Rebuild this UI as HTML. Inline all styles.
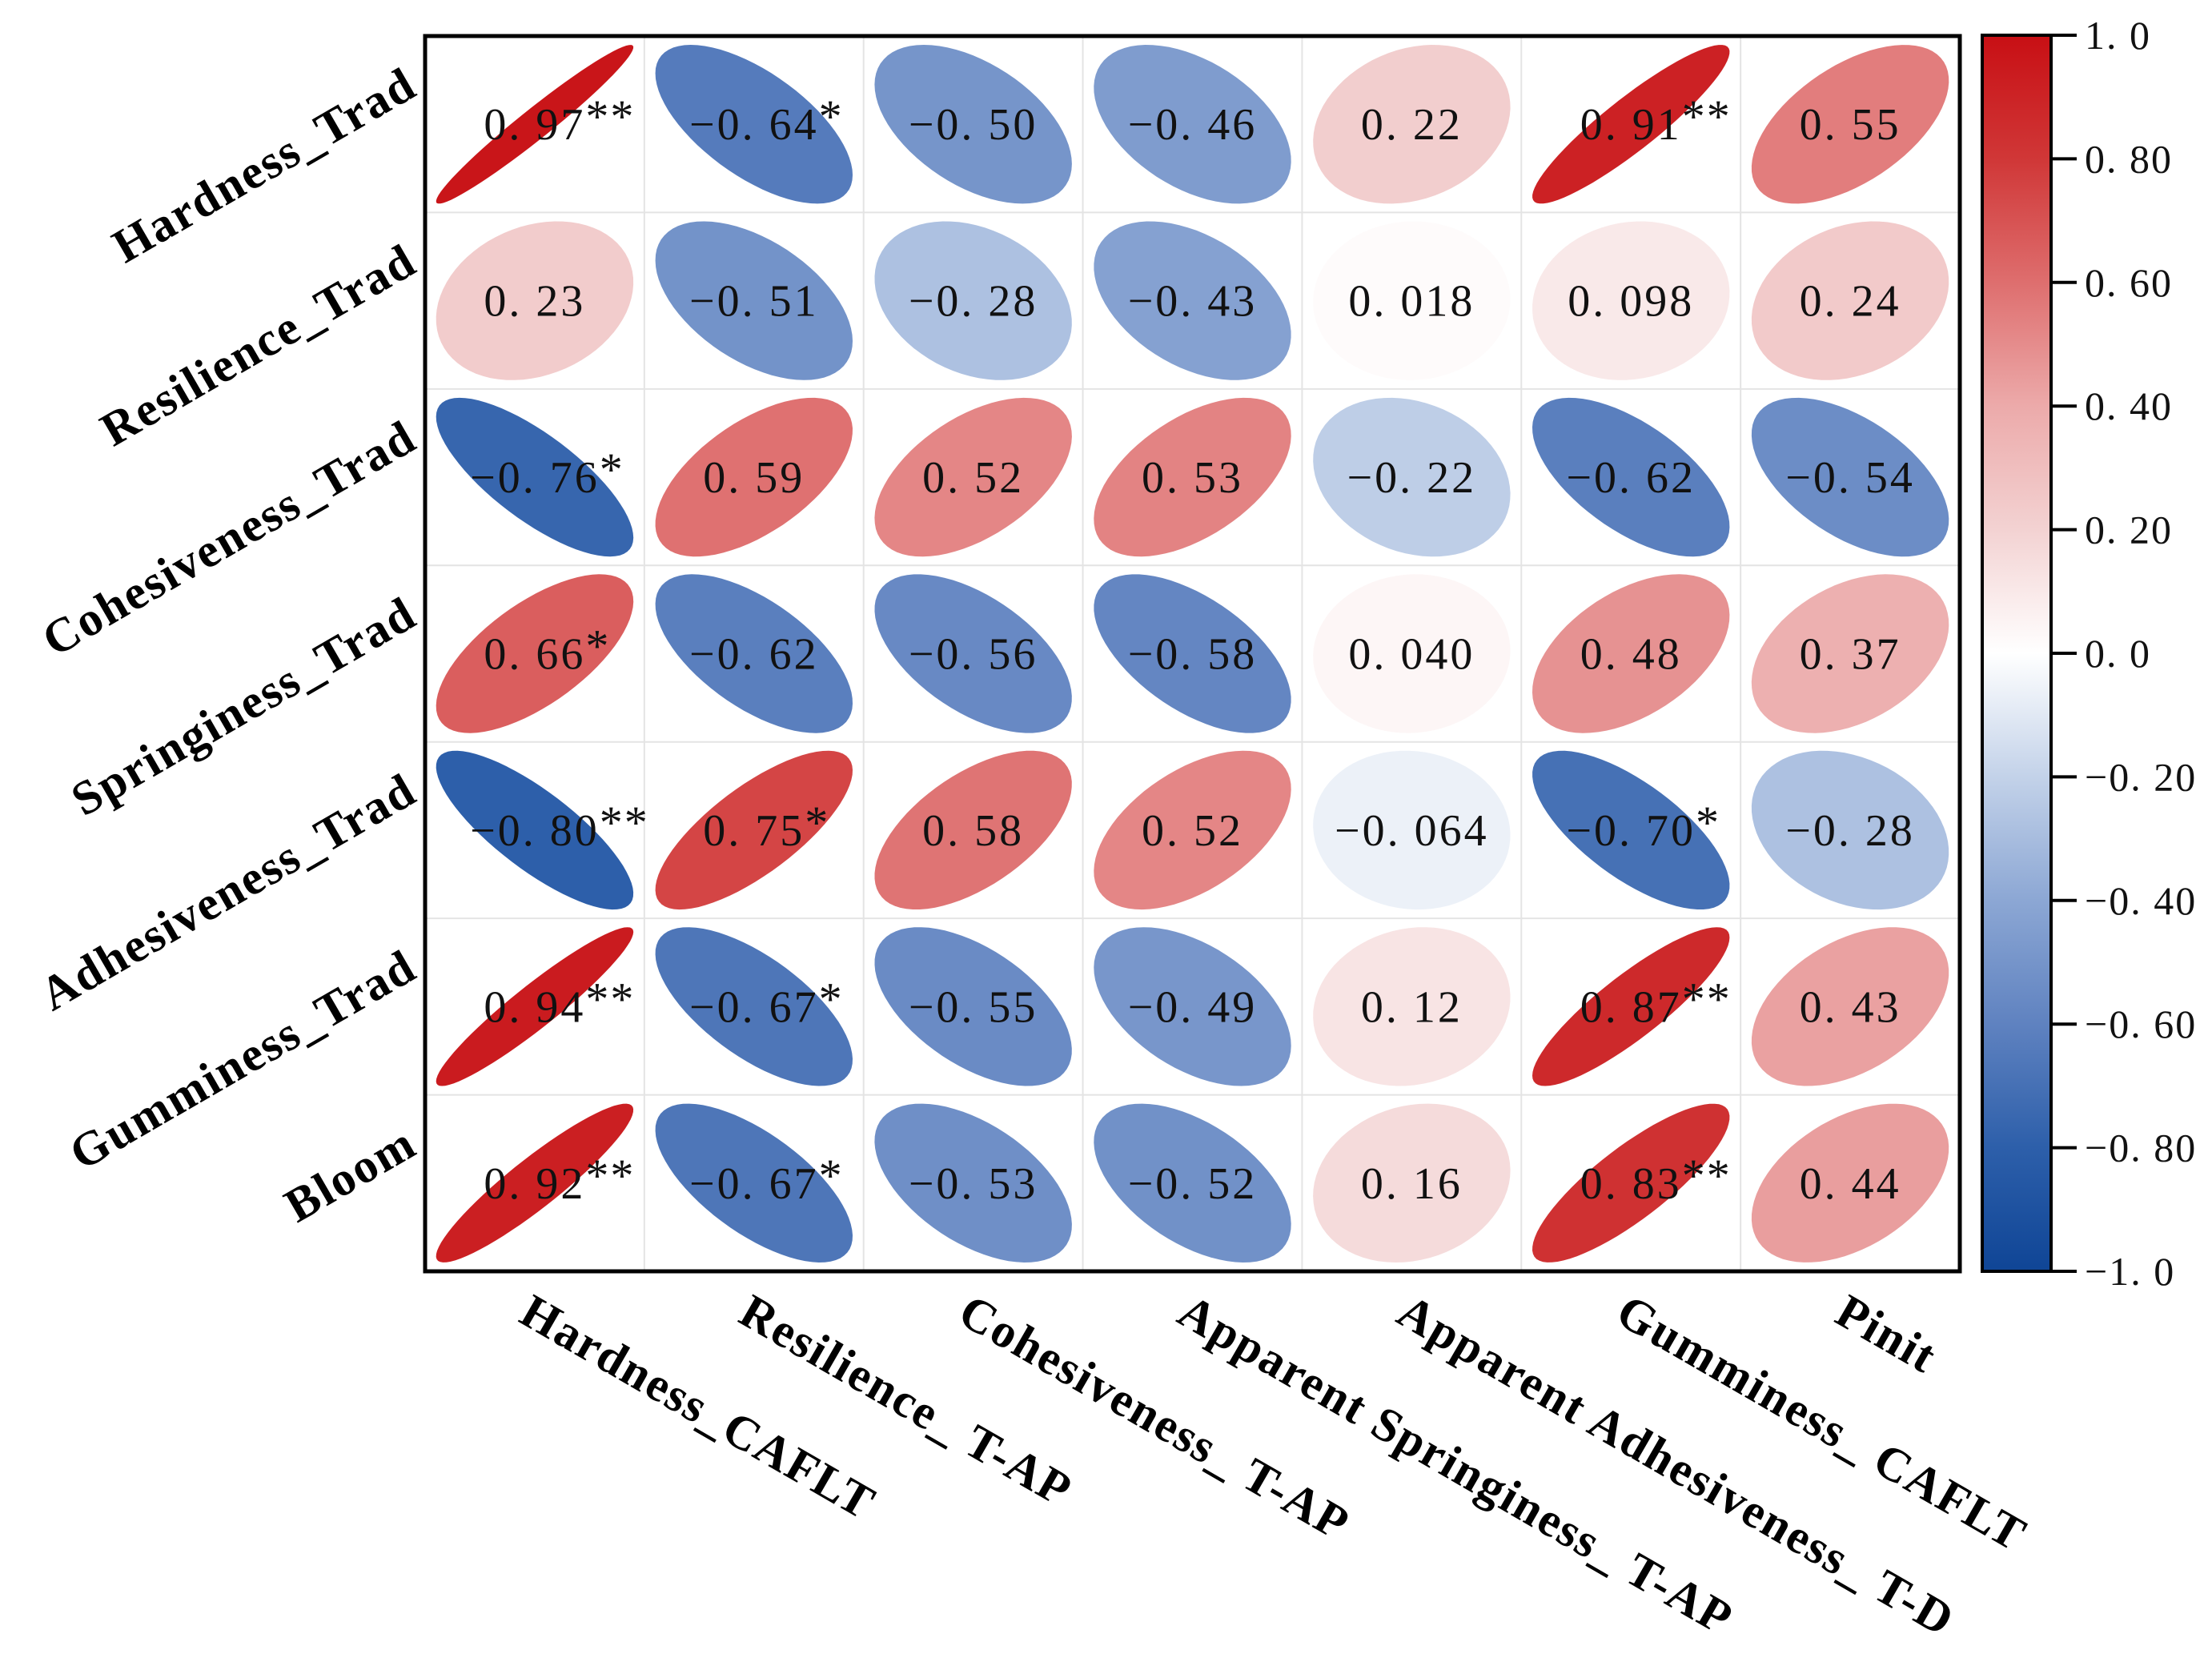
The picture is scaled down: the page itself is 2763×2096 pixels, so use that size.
<!DOCTYPE html>
<html><head><meta charset="utf-8"><style>
html,body{margin:0;padding:0;background:#fff;}
svg{display:block;}
text{font-family:"Liberation Serif","Noto Serif CJK SC",serif;}
</style></head><body>
<svg id="chart" width="2763" height="2096" viewBox="0 0 2763 2096" xmlns="http://www.w3.org/2000/svg">
<defs>
<linearGradient id="cbgrad" x1="0" y1="1" x2="0" y2="0">
<stop offset="0" stop-color="rgb(15,69,150)"/>
<stop offset="0.1" stop-color="rgb(45,95,170)"/>
<stop offset="0.2" stop-color="rgb(95,130,192)"/>
<stop offset="0.3" stop-color="rgb(140,167,212)"/>
<stop offset="0.4" stop-color="rgb(195,210,233)"/>
<stop offset="0.5" stop-color="#ffffff"/>
<stop offset="0.6" stop-color="rgb(243,210,210)"/>
<stop offset="0.7" stop-color="rgb(236,170,170)"/>
<stop offset="0.8" stop-color="rgb(222,110,110)"/>
<stop offset="0.9" stop-color="rgb(208,55,55)"/>
<stop offset="1" stop-color="rgb(200,15,20)"/>
</linearGradient>
</defs>
<g id="grid"></g>
<g id="cells"></g>
<rect x="531" y="45" width="1917" height="1543" fill="none" stroke="#000" stroke-width="5"/>
<g id="ylabels"></g>
<g id="xlabels"></g>
<rect x="2476" y="44" width="86" height="1544" fill="url(#cbgrad)" stroke="#000" stroke-width="4"/>
<g id="cbticks"></g>
</svg>
<script>
const rowLabels = ["Hardness_Trad","Resilience_Trad","Cohesiveness_Trad","Springiness_Trad","Adhesiveness_Trad","Gumminess_Trad","Bloom"];
const colLabels = ["Hardness_CAFLT","Resilience_ T-AP","Cohesiveness_ T-AP","Apparent Springiness_ T-AP","Apparent Adhesiveness_ T-D","Gumminess_ CAFLT","Pinit"];
const corrValues = [
 [0.97,-0.64,-0.50,-0.46,0.22,0.91,0.55],
 [0.23,-0.51,-0.28,-0.43,0.018,0.098,0.24],
 [-0.76,0.59,0.52,0.53,-0.22,-0.62,-0.54],
 [0.66,-0.62,-0.56,-0.58,0.040,0.48,0.37],
 [-0.80,0.75,0.58,0.52,-0.064,-0.70,-0.28],
 [0.94,-0.67,-0.55,-0.49,0.12,0.87,0.43],
 [0.92,-0.67,-0.53,-0.52,0.16,0.83,0.44]
];
const valueLabels = [
 ["0. 97","−0. 64","−0. 50","−0. 46","0. 22","0. 91","0. 55"],
 ["0. 23","−0. 51","−0. 28","−0. 43","0. 018","0. 098","0. 24"],
 ["−0. 76","0. 59","0. 52","0. 53","−0. 22","−0. 62","−0. 54"],
 ["0. 66","−0. 62","−0. 56","−0. 58","0. 040","0. 48","0. 37"],
 ["−0. 80","0. 75","0. 58","0. 52","−0. 064","−0. 70","−0. 28"],
 ["0. 94","−0. 67","−0. 55","−0. 49","0. 12","0. 87","0. 43"],
 ["0. 92","−0. 67","−0. 53","−0. 52","0. 16","0. 83","0. 44"]
];
const stars = [
 ["**","*","","","","**",""],
 ["","","","","","",""],
 ["*","","","","","",""],
 ["*","","","","","",""],
 ["**","*","","","","*",""],
 ["**","*","","","","**",""],
 ["**","*","","","","**",""]
];
const cbTickValues = [1.0,0.8,0.6,0.4,0.2,0.0,-0.2,-0.4,-0.6,-0.8,-1.0];
const cbTickLabels = ["1. 0","0. 80","0. 60","0. 40","0. 20","0. 0","−0. 20","−0. 40","−0. 60","−0. 80","−1. 0"];

const NS="http://www.w3.org/2000/svg";
const L=531,T=45,W=1917,H=1543,n=7,cw=W/n,ch=H/n;
const xC=j=>L+cw*(j+0.5), yC=i=>T+ch*(i+0.5);
const cbY=v=>44+(1-v)/2*1544;
const stops=[[-1,[15,69,150]],[-0.8,[45,95,170]],[-0.6,[95,130,192]],[-0.4,[140,167,212]],[-0.2,[195,210,233]],[0,[255,255,255]],[0.2,[243,210,210]],[0.4,[236,170,170]],[0.6,[222,110,110]],[0.8,[208,55,55]],[1,[200,15,20]]];
function color(v){for(let k=0;k<stops.length-1;k++){const a=stops[k],b=stops[k+1];if(v<=b[0]){const t=(v-a[0])/(b[0]-a[0]);const c=a[1].map((x,m)=>Math.round(x+(b[1][m]-x)*t));return `rgb(${c})`;}}return "rgb(200,15,20)";}
function mk(tag,attrs,parent){const e=document.createElementNS(NS,tag);for(const k in attrs)e.setAttribute(k,attrs[k]);parent.appendChild(e);return e;}
const grid=document.getElementById('grid');
for(let k=1;k<n;k++){
 const l1=mk('line',{x1:L+cw*k,y1:T,x2:L+cw*k,y2:T+H,stroke:'#e4e4e4','stroke-width':2},grid);
 
 
 const l2=mk('line',{x1:L,y1:T+ch*k,x2:L+W,y2:T+ch*k,stroke:'#e4e4e4','stroke-width':2},grid);
 
 
}
const cells=document.getElementById('cells');
for(let i=0;i<n;i++)for(let j=0;j<n;j++){
 const r=corrValues[i][j],d=Math.acos(Math.max(-1,Math.min(1,r)));
 const cx=xC(j),cy=yC(i),sx=cw*0.45,sy=ch*0.45;
 let p="";
 for(let s=0;s<=72;s++){const t=s/72*2*Math.PI;const x=Math.cos(t+d/2),y=Math.cos(t-d/2);p+=(s?"L":"M")+(cx+x*sx).toFixed(1)+","+(cy-y*sy).toFixed(1);}
 const e=mk('path',{d:p+"Z",fill:color(r)},cells);
 
 
 const tx=mk('text',{x:cx,y:cy+19,'font-size':56,'letter-spacing':3,'text-anchor':'middle',fill:'#111'},cells);
 tx.textContent=valueLabels[i][j];
 
 
 if(stars[i][j]){
  const w=tx.getComputedTextLength?tx.getComputedTextLength():110;
  const st=mk('text',{x:cx+w/2,y:cy+10,'font-size':58,'letter-spacing':2,'text-anchor':'start',fill:'#111'},cells);
  st.textContent=stars[i][j];
  
  
 }
}
const yl=document.getElementById('ylabels');
rowLabels.forEach((s,i)=>{
 const t=mk('text',{x:0,y:0,'font-size':60,'letter-spacing':2,'font-weight':'bold','text-anchor':'end',transform:`translate(524,${yC(i)-38}) rotate(-30)`},yl);
 t.textContent=s;
 
 
});
const xl=document.getElementById('xlabels');
colLabels.forEach((s,j)=>{
 const t=mk('text',{x:0,y:0,'font-size':60,'letter-spacing':2,'font-weight':'bold','text-anchor':'start',transform:`translate(${xC(j)-22},${1650}) rotate(30)`},xl);
 t.textContent=s;
 
 
});
const cb=document.getElementById('cbticks');
cbTickValues.forEach((v,k)=>{
 const y=cbY(v);
 const l=mk('line',{x1:2562,y1:y,x2:2594,y2:y,stroke:'#000','stroke-width':4},cb);
 
 
 const t=mk('text',{x:2604,y:y+17,'font-size':50,'letter-spacing':2,fill:'#111'},cb);
 t.textContent=cbTickLabels[k];
 
 
});
</script>
</body></html>
